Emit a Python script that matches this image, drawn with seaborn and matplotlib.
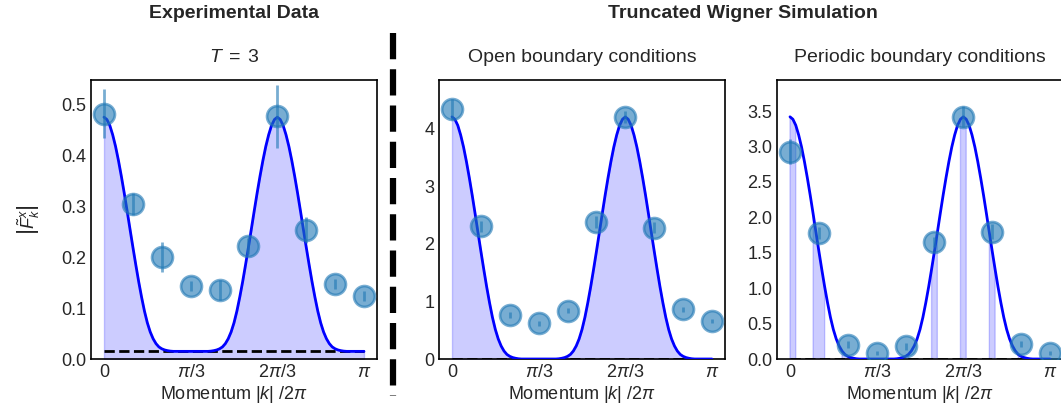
import numpy as np
import matplotlib
matplotlib.use('Agg')
import matplotlib.pyplot as plt
import seaborn as sns

# momentum index k = 0..9 (ticks at 0, pi/3, 2pi/3, pi)
k = np.arange(10)
tick_pos = [0, 3, 6, 9]
tick_labels = ['0', r'$\pi/3$', r'$2\pi/3$', r'$\pi$']

# data points
exp_vals = [0.482, 0.305, 0.200, 0.143, 0.135, 0.222, 0.477, 0.253, 0.148, 0.123]
exp_err = [0.048, 0.022, 0.030, 0.010, 0.020, 0.015, 0.062, 0.025, 0.010, 0.010]
open_vals = [4.33, 2.30, 0.76, 0.62, 0.84, 2.38, 4.20, 2.28, 0.86, 0.66]
open_err = [0.18, 0.10, 0.05, 0.04, 0.05, 0.10, 0.10, 0.10, 0.04, 0.04]
per_vals = [2.93, 1.78, 0.20, 0.09, 0.18, 1.65, 3.42, 1.80, 0.21, 0.09]
per_err = [0.17, 0.08, 0.05, 0.03, 0.05, 0.07, 0.15, 0.10, 0.04, 0.03]

# peak shape of the model curve vs distance from a peak (step 0.1)
profile = [1.000, 0.990, 0.965, 0.925, 0.875, 0.815, 0.748, 0.676, 0.600, 0.522,
           0.445, 0.370, 0.298, 0.232, 0.172, 0.122, 0.083, 0.054, 0.033, 0.019,
           0.011, 0.006, 0.003, 0.001, 0.0, 0.0, 0.0, 0.0, 0.0, 0.0, 0.0]
# peak heights and baselines of the curves
exp_peak, exp_base = 0.475, 0.015
open_peak, open_base = 4.20, 0.0
per_peak, per_base = 3.42, 0.0

x_curve = np.round(np.arange(91) * 0.1, 1)
shape = np.array(profile + profile[-2::-1] + profile[1:])

sns.set_style('white')
plt.rcParams['font.family'] = ['Liberation Sans', 'DejaVu Sans']
plt.rcParams['mathtext.fontset'] = 'custom'
plt.rcParams['mathtext.rm'] = 'Liberation Sans'
plt.rcParams['mathtext.it'] = 'Liberation Sans:italic'
plt.rcParams['mathtext.cal'] = 'Liberation Sans'

fig = plt.figure(figsize=(10.61, 4.16), dpi=100)
W, H = 1061, 416
def box(l, r, t, b):
    return [l / W, 1 - b / H, (r - l) / W, (b - t) / H]

ax1 = fig.add_axes(box(91, 377, 80, 359))
ax2 = fig.add_axes(box(439, 725, 80, 359))
ax3 = fig.add_axes(box(777, 1063, 80, 359))

panels = [
    (ax1, exp_vals, exp_err, exp_peak, exp_base, 0.548, r'$T\;=\;3$', [0, 0.1, 0.2, 0.3, 0.4, 0.5], '{:.1f}'),
    (ax2, open_vals, open_err, open_peak, open_base, 4.84, 'Open boundary conditions', [0, 1, 2, 3, 4], '{:.0f}'),
    (ax3, per_vals, per_err, per_peak, per_base, 3.94, 'Periodic boundary conditions', [0, 0.5, 1, 1.5, 2, 2.5, 3, 3.5], '{:.1f}'),
]

for i, (ax, vals, err, peak, base, ytop, title, yt, fmt) in enumerate(panels):
    curve = base + (peak - base) * shape
    if i < 2:
        ax.fill_between(x_curve, 0, curve, color='blue', alpha=0.2, lw=1)
    else:
        near = np.abs(x_curve - np.round(x_curve)) <= 0.2
        ax.fill_between(x_curve, 0, curve, where=near, color='blue', alpha=0.2, lw=1)
    sns.lineplot(x=x_curve, y=curve, ax=ax, color='blue', lw=2, zorder=3)
    ax.plot([0, 9], [base, base], color='black', ls='--', lw=2, zorder=2)
    ax.errorbar(k, vals, yerr=err, fmt='o', color='C0', alpha=0.6, ms=15,
                mew=2, elinewidth=2, zorder=4)
    ax.set_xlim(-0.45, 9.45)
    ax.set_ylim(0, ytop)
    ax.set_xticks(tick_pos)
    ax.set_xticklabels(tick_labels)
    ax.set_yticks(yt)
    ax.set_yticklabels([fmt.format(v) for v in yt])
    ax.tick_params(direction='in', length=4, width=1, labelsize=13, color='black')
    for s in ax.spines.values():
        s.set_color('black')
        s.set_linewidth(1.2)
    ax.set_xlabel(r'Momentum $|k|\ /2\pi$', fontsize=13, labelpad=2)
    ax.set_title(title, fontsize=14, pad=13)

ax1.set_ylabel(r'$\left|\tilde{F}^{x}_{k}\right|$', fontsize=13, labelpad=14)

fig.text(234 / W, 1 - 14 / H, 'Experimental Data', fontsize=14, fontweight='bold',
         ha='center', va='center')
fig.text(743 / W, 1 - 14 / H, 'Truncated Wigner Simulation', fontsize=14, fontweight='bold',
         ha='center', va='center')
fig.add_artist(plt.Line2D([393 / W, 393 / W], [1 - 33 / H, 1 - 396 / H], color='black',
                          lw=4.5, ls=(0, (4.2, 1.6)), transform=fig.transFigure))

fig.savefig('out.png', dpi=100)
